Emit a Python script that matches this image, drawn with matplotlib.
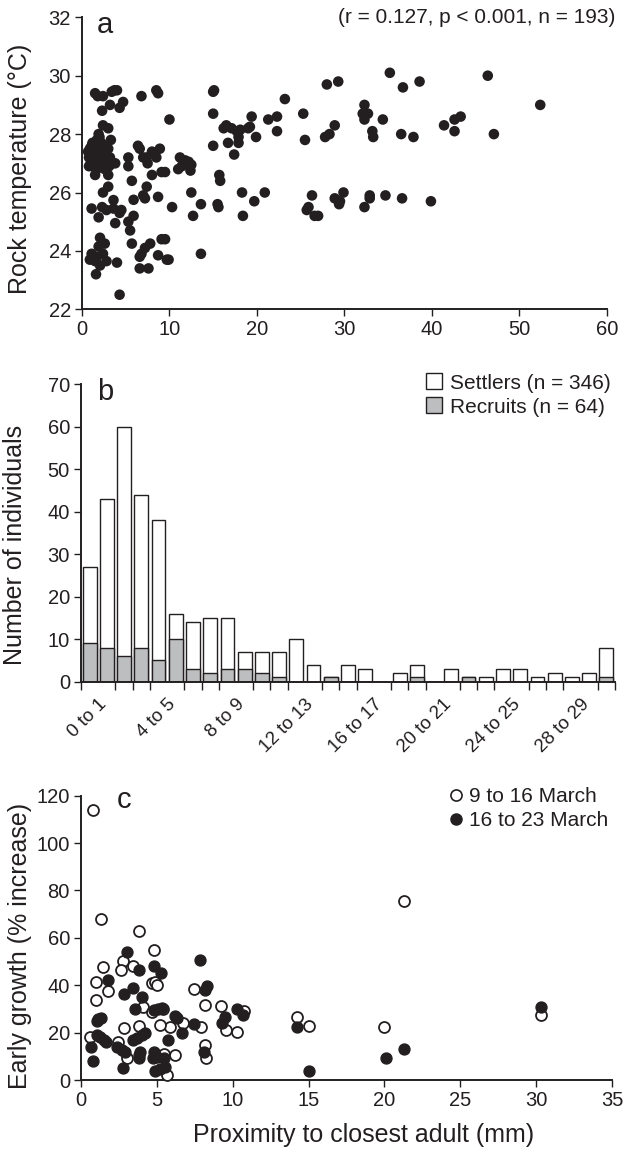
import numpy as np
import matplotlib
matplotlib.use('Agg')
import matplotlib.pyplot as plt
from matplotlib.lines import Line2D

plt.rcParams['font.family'] = ['Liberation Sans', 'DejaVu Sans']

ink = '#231f20'

# ---- panel a: rock temperature vs proximity ----
temp_x = [1.5, 1.8, 2.4, 3.4, 3.7, 4.0, 3.2, 4.3, 4.7, 2.3, 6.8, 8.5, 8.7, 10.0, 2.4, 3.0, 1.9, 1.7, 3.3, 2.0,
          0.7, 0.8, 0.9, 1.0, 1.1, 1.1, 1.2, 1.3, 1.4, 1.5, 1.5, 1.6, 1.7, 1.8, 1.9, 2.0, 2.1, 2.1, 2.3, 2.4,
          2.5, 2.6, 2.7, 2.8, 3.0, 3.1, 3.2, 0.8, 1.2, 2.2,
          3.8, 3.5, 1.5, 3.0, 5.3, 5.3, 6.4, 6.6, 7.0, 7.4, 7.5, 8.0, 8.5, 8.9, 8.0, 9.1, 5.7, 7.4, 3.0, 2.4,
          7.0, 7.2, 5.9, 8.7, 3.6, 1.1, 2.3, 2.8, 3.6, 4.5, 4.3, 1.9, 3.8, 5.3, 5.9, 5.5, 2.06, 2.6, 1.9,
          1.1, 1.7, 2.4, 1.5, 2.8, 2.06, 0.9, 1.6, 4.0, 5.7, 6.8, 7.2, 7.8, 6.6, 9.1, 8.7, 9.7, 6.6, 7.6, 4.3,
          9.5, 11.2, 11.8, 12.2, 12.5, 12.4, 11.0, 11.4, 12.5, 10.3, 13.6, 12.7, 13.6, 9.5, 9.9,
          15.0, 15.1, 15.0, 15.0, 16.2, 16.5, 17.1, 17.7, 18.1, 19.0, 19.2, 17.9, 17.9, 16.7, 17.4, 19.9,
          19.4, 21.3, 22.3, 22.3, 23.2, 15.7, 15.8, 18.3, 20.9, 19.7, 15.5, 15.6, 18.4,
          25.3, 25.5, 26.3, 25.9, 25.7, 26.6, 28.0, 29.3, 35.2, 36.7, 38.6, 46.4, 52.4, 28.9, 27.8, 28.3,
          32.3, 32.1, 32.7, 32.3, 34.4, 33.2, 33.3, 36.5, 37.9, 41.4, 42.6, 43.3, 42.6, 47.1, 27.0, 28.9,
          29.4, 29.9, 29.5, 32.3, 32.9, 32.9, 34.7, 36.6, 39.9]
temp_y = [29.4, 29.3, 29.3, 29.45, 29.5, 29.5, 29.0, 28.9, 29.1, 28.8, 29.3, 29.5, 29.4, 28.5, 28.3, 28.2, 28.0, 27.8, 27.8, 27.9,
          27.4, 27.2, 27.5, 27.0, 27.3, 27.6, 26.9, 27.2, 27.5, 27.0, 27.7, 27.3, 26.8, 27.1, 27.5, 27.6, 27.2, 26.9, 27.4, 27.0,
          27.6, 26.8, 27.3, 27.1, 27.5, 26.9, 27.2, 26.9, 27.7, 27.7,
          27.0, 27.0, 26.6, 26.6, 27.2, 26.9, 27.6, 27.5, 27.2, 27.2, 27.0, 27.4, 27.2, 27.5, 26.6, 26.7, 26.4, 26.2, 26.2, 26.0,
          25.9, 25.8, 25.75, 25.85, 25.74, 25.45, 25.5, 25.4, 25.45, 25.4, 25.3, 25.15, 24.95, 25.0, 25.2, 24.7, 24.45, 24.25, 24.15,
          23.9, 23.8, 23.9, 23.65, 23.65, 23.5, 23.7, 23.2, 23.6, 24.25, 23.9, 24.1, 24.25, 23.8, 24.4, 23.85, 23.7, 23.4, 23.4, 22.5,
          26.7, 27.2, 27.1, 27.05, 26.95, 26.75, 26.8, 26.9, 26.0, 25.5, 25.6, 25.2, 23.9, 24.4, 23.7,
          29.45, 29.5, 28.7, 27.6, 28.2, 28.3, 28.2, 28.1, 28.15, 28.2, 28.25, 27.9, 27.7, 27.7, 27.3, 27.9,
          28.6, 28.5, 28.6, 28.1, 29.2, 26.6, 26.4, 26.0, 26.0, 25.7, 25.6, 25.5, 25.2,
          28.7, 27.8, 25.9, 25.5, 25.4, 25.2, 29.7, 29.8, 30.1, 29.6, 29.8, 30.0, 29.0, 28.3, 27.9, 28.0,
          29.0, 28.7, 28.7, 28.5, 28.5, 28.1, 27.9, 28.0, 27.9, 28.3, 28.5, 28.6, 28.1, 28.0, 25.2, 25.8,
          25.6, 26.0, 25.7, 25.5, 25.9, 25.8, 25.9, 25.8, 25.7]
stats_text = '(r = 0.127, p < 0.001, n = 193)'

# ---- panel b: histogram of individuals per distance class ----
class_labels = [f'{i} to {i + 1}' for i in range(31)]
settlers = [27, 43, 60, 44, 38, 16, 14, 15, 15, 7, 7, 7, 10, 4, 1, 4, 3, 0, 2, 4, 0, 3, 1, 1, 3, 3, 1, 2, 1, 2, 8]
recruits = [9, 8, 6, 8, 5, 10, 3, 2, 3, 3, 2, 1, 0, 0, 1, 0, 0, 0, 0, 1, 0, 0, 1, 0, 0, 0, 0, 0, 0, 0, 1]

# ---- panel c: early growth ----
g1_x = [0.8, 1.3, 3.85, 4.8, 2.75, 2.65, 1.45, 3.45, 1.0, 1.8, 1.0, 4.65, 4.85, 5.0, 7.45, 4.1, 4.7, 5.4,
        8.2, 9.25, 10.75, 5.85, 5.2, 3.85, 2.85, 7.9, 9.55, 10.25, 0.6, 2.45, 3.0, 5.45, 6.2, 5.7, 8.15,
        8.25, 6.7, 14.25, 15.0, 21.3, 20.0, 30.3]
g1_y = [114, 68, 63, 55, 50.2, 46.5, 47.5, 48, 41.3, 37.5, 33.8, 41, 41.2, 40, 38.6, 31, 28.6, 30,
        31.7, 31.2, 29.3, 22.2, 23.2, 22.9, 21.8, 22.5, 21.1, 20.1, 18, 16, 9.2, 10.9, 10.6, 2.3, 14.8,
        9.2, 24.2, 26.4, 22.8, 75.5, 22.5, 27.4]
g2_x = [3.0, 7.85, 3.85, 4.8, 5.3, 1.8, 3.4, 2.85, 4.05, 8.3, 8.15, 3.55, 4.8, 5.1, 5.35, 6.2, 6.3,
        1.15, 1.35, 1.05, 10.25, 10.65, 9.5, 9.3, 7.45, 6.65, 1.05, 1.25, 1.5, 1.65, 0.65, 2.35, 2.7,
        2.9, 3.45, 3.7, 4.0, 4.25, 3.9, 3.8, 3.85, 4.8, 4.75, 5.0, 5.75, 5.45, 5.55, 4.9, 5.2, 0.8,
        2.8, 8.1, 14.25, 15.0, 21.3, 20.1, 30.3]
g2_y = [54.2, 50.7, 46.4, 48, 45, 42.2, 38.7, 36.3, 35.2, 39.7, 37.8, 29.8, 29.5, 29.8, 30.2, 27, 26,
        25.6, 26, 25, 29.8, 27.4, 26.5, 23.9, 23.6, 19.7, 19, 18.3, 16.9, 15.9, 14.1, 14.1, 12.7,
        12, 16.9, 17.6, 19, 19.7, 12, 9.1, 10.6, 12, 9.1, 9.8, 16.9, 9.1, 5.6, 3.6, 4.5, 8,
        5, 11.9, 22.2, 3.9, 12.9, 9.4, 30.9]

fig = plt.figure(figsize=(6.24, 11.53), dpi=100)
W, H = 624, 1153


def axes_px(left, top, right, bottom):
    return fig.add_axes([left / W, 1 - bottom / H, (right - left) / W, (bottom - top) / H])


def style(ax):
    for s in ['top', 'right']:
        ax.spines[s].set_visible(False)
    for s in ['left', 'bottom']:
        ax.spines[s].set_linewidth(1.4)
        ax.spines[s].set_color(ink)
    ax.tick_params(axis='both', which='both', direction='out', length=5, width=1.0,
                   color=ink, labelcolor=ink, labelsize=14.5, pad=3)


# a
ax1 = axes_px(82, 17.3, 606.7, 309.3)
style(ax1)
ax1.scatter(temp_x, temp_y, s=58, color=ink, edgecolors='none', clip_on=False, zorder=3)
ax1.set_xlim(0, 60)
ax1.set_ylim(22, 32)
ax1.set_xticks(range(0, 61, 10))
ax1.set_yticks(range(22, 33, 2))
ax1.set_ylabel('Rock temperature (°C)', fontsize=18, color=ink)
ax1.yaxis.set_label_coords(-0.095, 0.48)
ax1.text(0.029, 0.946, 'a', transform=ax1.transAxes, fontsize=21, color=ink, va='baseline')
ax1.text(1.016, 0.998, stats_text, transform=ax1.transAxes, fontsize=15, color=ink,
         ha='right', va='center')

# b
ax2 = axes_px(81, 384, 615, 681.7)
style(ax2)
pos = np.arange(len(settlers)) + 0.5
ax2.bar(pos, settlers, width=0.8, color='white', edgecolor=ink, linewidth=1.0)
ax2.bar(pos, recruits, width=0.8, color='#bcbec0', edgecolor=ink, linewidth=1.0)
ax2.set_xlim(0, len(settlers))
ax2.set_ylim(0, 70)
ax2.set_yticks(range(0, 71, 10))
ax2.set_xticks(np.arange(len(settlers) + 1), minor=True)
ax2.set_xticks(np.arange(1, len(settlers) + 1, 4))
ax2.set_xticklabels(class_labels[::4], rotation=45, ha='right', va='top',
                    rotation_mode='anchor', fontsize=13.5)
ax2.tick_params(axis='x', which='major', length=0, pad=10)
ax2.tick_params(axis='x', which='minor', length=6)
ax2.set_ylabel('Number of individuals', fontsize=18, color=ink)
ax2.yaxis.set_label_coords(-0.101, 0.46)
ax2.text(0.030, 0.946, 'b', transform=ax2.transAxes, fontsize=21, color=ink, va='baseline')
h_b = [Line2D([], [], ls='none', marker='s', ms=11, mfc='white', mec=ink, mew=1.0),
       Line2D([], [], ls='none', marker='s', ms=11, mfc='#bcbec0', mec=ink, mew=1.0)]
ax2.legend(h_b, ['Settlers (n = 346)', 'Recruits (n = 64)'], loc='upper left',
           bbox_to_anchor=(0.645, 1.035), frameon=False, fontsize=15, borderpad=0,
           borderaxespad=0, handlelength=0.8, handletextpad=0.4, labelspacing=0.25,
           labelcolor=ink)

# c
ax3 = axes_px(81, 795.7, 612, 1080)
style(ax3)
ax3.scatter(g1_x, g1_y, s=62, facecolors='white', edgecolors=ink, linewidths=1.3, zorder=3, clip_on=False)
ax3.scatter(g2_x, g2_y, s=62, color=ink, edgecolors=ink, linewidths=1.0, zorder=4, clip_on=False)
ax3.set_xlim(0, 35)
ax3.set_ylim(0, 120)
ax3.set_xticks(range(0, 36, 5))
ax3.set_yticks(range(0, 121, 20))
ax3.set_ylabel('Early growth (% increase)', fontsize=18, color=ink)
ax3.yaxis.set_label_coords(-0.092, 0.47)
ax3.set_xlabel('Proximity to closest adult (mm)', fontsize=18, color=ink)
ax3.xaxis.set_label_coords(0.533, -0.15)
ax3.text(0.067, 0.957, 'c', transform=ax3.transAxes, fontsize=21, color=ink, va='baseline')
h_c = [Line2D([], [], ls='none', marker='o', ms=8, mfc='white', mec=ink, mew=1.2),
       Line2D([], [], ls='none', marker='o', ms=8, mfc=ink, mec=ink)]
ax3.legend(h_c, ['9 to 16 March', '16 to 23 March'], loc='upper left',
           bbox_to_anchor=(0.695, 1.03), frameon=False, fontsize=15, borderpad=0,
           borderaxespad=0, handlelength=0.6, handletextpad=0.3, labelspacing=0.25,
           labelcolor=ink)

fig.savefig('out.png', dpi=100)
